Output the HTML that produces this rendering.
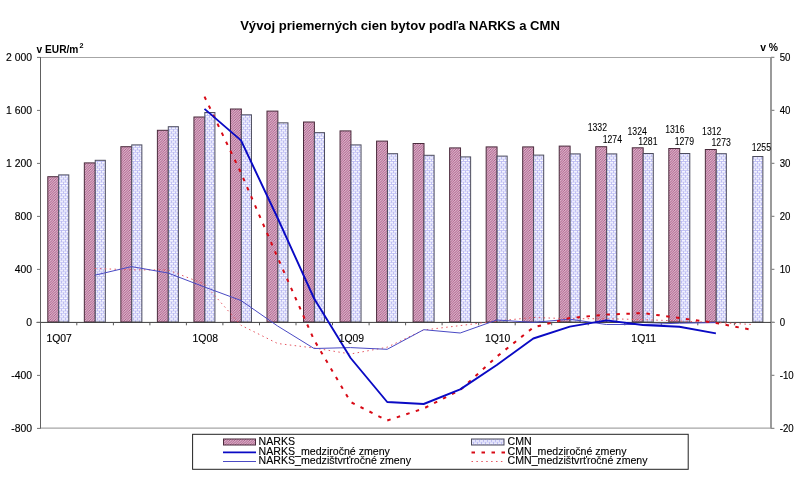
<!DOCTYPE html>
<html lang="sk">
<head>
<meta charset="utf-8">
<title>Vývoj priemerných cien bytov podľa NARKS a CMN</title>
<style>
html,body{margin:0;padding:0;background:#fff;}
body{width:800px;height:483px;overflow:hidden;}
svg{display:block;}
text{font-family:"Liberation Sans",Arial,Helvetica,sans-serif;fill:#000;}
.t{font-size:10.4px;stroke:#000;stroke-width:0.14px;}
.d{font-size:10px;stroke:#000;stroke-width:0.08px;}
.b{font-weight:bold;}
.lg{font-size:10.6px;stroke:#000;stroke-width:0.12px;}
</style>
</head>
<body>
<svg width="800" height="483" viewBox="0 0 800 483">
<defs>
<pattern id="pn" width="2.5" height="2.5" patternUnits="userSpaceOnUse">
<rect width="2.5" height="2.5" fill="#f2d4e4"/>
<path d="M-0.5,0.5 L0.5,-0.5 M-0.5,3 L3,-0.5 M2,3 L3,2" stroke="#9e4c7a" stroke-width="0.88"/>
</pattern>
<pattern id="pc" width="4" height="4.6" patternUnits="userSpaceOnUse">
<rect width="4" height="4.6" fill="#fafaff"/>
<path d="M0,0.5 H4 M0,2.8 H4 M1.5,0.5 V2.8 M3.5,2.8 V5.1" stroke="#a9a9ee" stroke-width="0.68" fill="none"/>
</pattern>
</defs>
<rect width="800" height="483" fill="#fff"/>

<path d="M40,57.5 H771 M40,428.1 H771" stroke="#a6a6a6" stroke-width="1.1" fill="none"/>
<g stroke-width="1">
<rect x="47.80" y="176.70" width="10.90" height="145.30" fill="url(#pn)" stroke="#4a2b3c"/>
<rect x="84.33" y="162.90" width="10.90" height="159.10" fill="url(#pn)" stroke="#4a2b3c"/>
<rect x="120.86" y="146.70" width="10.90" height="175.30" fill="url(#pn)" stroke="#4a2b3c"/>
<rect x="157.39" y="130.30" width="10.90" height="191.70" fill="url(#pn)" stroke="#4a2b3c"/>
<rect x="193.92" y="117.00" width="10.90" height="205.00" fill="url(#pn)" stroke="#4a2b3c"/>
<rect x="230.45" y="109.00" width="10.90" height="213.00" fill="url(#pn)" stroke="#4a2b3c"/>
<rect x="266.98" y="111.10" width="10.90" height="210.90" fill="url(#pn)" stroke="#4a2b3c"/>
<rect x="303.51" y="122.00" width="10.90" height="200.00" fill="url(#pn)" stroke="#4a2b3c"/>
<rect x="340.04" y="130.90" width="10.90" height="191.10" fill="url(#pn)" stroke="#4a2b3c"/>
<rect x="376.57" y="141.10" width="10.90" height="180.90" fill="url(#pn)" stroke="#4a2b3c"/>
<rect x="413.10" y="143.50" width="10.90" height="178.50" fill="url(#pn)" stroke="#4a2b3c"/>
<rect x="449.63" y="147.90" width="10.90" height="174.10" fill="url(#pn)" stroke="#4a2b3c"/>
<rect x="486.16" y="146.90" width="10.90" height="175.10" fill="url(#pn)" stroke="#4a2b3c"/>
<rect x="522.69" y="146.90" width="10.90" height="175.10" fill="url(#pn)" stroke="#4a2b3c"/>
<rect x="559.22" y="146.10" width="10.90" height="175.90" fill="url(#pn)" stroke="#4a2b3c"/>
<rect x="595.75" y="146.70" width="10.90" height="175.30" fill="url(#pn)" stroke="#4a2b3c"/>
<rect x="632.28" y="147.80" width="10.90" height="174.20" fill="url(#pn)" stroke="#4a2b3c"/>
<rect x="668.81" y="148.50" width="10.90" height="173.50" fill="url(#pn)" stroke="#4a2b3c"/>
<rect x="705.34" y="149.50" width="10.90" height="172.50" fill="url(#pn)" stroke="#4a2b3c"/>
<rect x="58.70" y="174.90" width="10.10" height="147.10" fill="url(#pc)" stroke="#4d4d5e"/>
<rect x="95.23" y="160.30" width="10.10" height="161.70" fill="url(#pc)" stroke="#4d4d5e"/>
<rect x="131.76" y="144.90" width="10.10" height="177.10" fill="url(#pc)" stroke="#4d4d5e"/>
<rect x="168.29" y="126.70" width="10.10" height="195.30" fill="url(#pc)" stroke="#4d4d5e"/>
<rect x="204.82" y="112.50" width="10.10" height="209.50" fill="url(#pc)" stroke="#4d4d5e"/>
<rect x="241.35" y="114.80" width="10.10" height="207.20" fill="url(#pc)" stroke="#4d4d5e"/>
<rect x="277.88" y="122.85" width="10.10" height="199.15" fill="url(#pc)" stroke="#4d4d5e"/>
<rect x="314.41" y="132.65" width="10.10" height="189.35" fill="url(#pc)" stroke="#4d4d5e"/>
<rect x="350.94" y="144.90" width="10.10" height="177.10" fill="url(#pc)" stroke="#4d4d5e"/>
<rect x="387.47" y="153.70" width="10.10" height="168.30" fill="url(#pc)" stroke="#4d4d5e"/>
<rect x="424.00" y="155.30" width="10.10" height="166.70" fill="url(#pc)" stroke="#4d4d5e"/>
<rect x="460.53" y="156.90" width="10.10" height="165.10" fill="url(#pc)" stroke="#4d4d5e"/>
<rect x="497.06" y="156.10" width="10.10" height="165.90" fill="url(#pc)" stroke="#4d4d5e"/>
<rect x="533.59" y="155.10" width="10.10" height="166.90" fill="url(#pc)" stroke="#4d4d5e"/>
<rect x="570.12" y="153.90" width="10.10" height="168.10" fill="url(#pc)" stroke="#4d4d5e"/>
<rect x="606.65" y="153.90" width="10.10" height="168.10" fill="url(#pc)" stroke="#4d4d5e"/>
<rect x="643.18" y="153.50" width="10.10" height="168.50" fill="url(#pc)" stroke="#4d4d5e"/>
<rect x="679.71" y="153.50" width="10.10" height="168.50" fill="url(#pc)" stroke="#4d4d5e"/>
<rect x="716.24" y="153.70" width="10.10" height="168.30" fill="url(#pc)" stroke="#4d4d5e"/>
<rect x="752.77" y="156.50" width="10.10" height="165.50" fill="url(#pc)" stroke="#4d4d5e"/>
</g>
<path d="M40.5,57 V428.5" stroke="#606060" stroke-width="1" fill="none"/>
<path d="M771,57 V428.6" stroke="#969696" stroke-width="1.9" fill="none"/>
<path d="M36.5,322.4 H774.5" stroke="#3a3a3a" stroke-width="1" fill="none"/>
<path d="M37,57.4 H40.5 M37,110.4 H40.5 M37,163.4 H40.5 M37,216.4 H40.5 M37,269.4 H40.5 M37,322.4 H40.5 M37,375.4 H40.5 M37,428.4 H40.5" stroke="#707070" stroke-width="1" fill="none"/>
<path d="M771,57.4 H774.4 M771,110.4 H774.4 M771,163.4 H774.4 M771,216.4 H774.4 M771,269.4 H774.4 M771,322.4 H774.4 M771,375.4 H774.4 M771,428.4 H774.4" stroke="#8c8c8c" stroke-width="1.1" fill="none"/>
<path d="M76.8,322.3 V325.3 M113.4,322.3 V325.3 M149.9,322.3 V325.3 M186.4,322.3 V325.3 M222.9,322.3 V325.3 M259.5,322.3 V325.3 M296.0,322.3 V325.3 M332.5,322.3 V325.3 M369.1,322.3 V325.3 M405.6,322.3 V325.3 M442.1,322.3 V325.3 M478.7,322.3 V325.3 M515.2,322.3 V325.3 M551.7,322.3 V325.3 M588.2,322.3 V325.3 M624.8,322.3 V325.3 M661.3,322.3 V325.3 M697.8,322.3 V325.3 M734.4,322.3 V325.3" stroke="#555" stroke-width="1" fill="none"/>
<path d="M94.9,268.5 L131.5,269.8 L168.0,270.0 L204.5,284.0 L241.0,325.3 L277.6,343.5 L314.1,348.0 L350.6,354.0 L387.2,347.2 L423.7,330.0 L460.2,325.6 L496.8,321.0 L533.3,317.5 L569.8,318.7 L606.4,318.7 L642.9,319.6 L679.4,321.0 L715.9,322.5 L752.5,324.5" stroke="#e65560" stroke-width="1" stroke-dasharray="1.5,3.4" fill="none"/>
<path d="M94.9,275.2 L131.5,266.6 L168.0,273.0 L204.5,287.0 L241.0,300.5 L277.6,326.0 L314.1,348.5 L350.6,347.6 L387.2,349.3 L423.7,329.7 L460.2,333.0 L496.8,320.0 L533.3,322.4 L569.8,319.2 L606.4,324.5 L642.9,324.5 L679.4,323.2 L715.9,322.6" stroke="#4a4ac4" stroke-width="1" fill="none"/>
<path d="M204.5,96.6 L241.0,173.0 L277.6,257.5 L314.1,340.0 L350.6,402.0 L387.2,420.5 L423.7,408.5 L460.2,390.0 L496.8,356.6 L533.3,327.4 L569.8,318.0 L606.4,314.6 L642.9,313.1 L679.4,318.0 L715.9,323.0 L752.5,330.0" stroke="#d80a16" stroke-width="2" stroke-dasharray="3.5,6.5" fill="none"/>
<path d="M204.5,108.9 L241.0,140.4 L277.6,218.0 L314.1,298.5 L350.6,358.0 L387.2,402.0 L423.7,404.0 L460.2,389.4 L496.8,365.0 L533.3,338.5 L569.8,326.6 L606.4,320.4 L642.9,325.0 L679.4,326.8 L715.9,333.4" stroke="#0a0ac4" stroke-width="1.9" stroke-linejoin="round" fill="none"/>
<text x="400" y="30.1" text-anchor="middle" class="b" style="font-size:13.09px">Vývoj priemerných cien bytov podľa NARKS a CMN</text>
<text x="36.5" y="52.8" class="b" style="font-size:10.2px">v EUR/m<tspan dx="1" dy="-4.4" style="font-size:7.2px">2</tspan></text>
<text x="760.2" y="50.9" class="b" style="font-size:10.4px">v %</text>
<text x="32" y="61.3" text-anchor="end" class="t">2 000</text>
<text transform="translate(779.7,61.0) scale(0.93,1)" class="t">50</text>
<text x="32" y="114.3" text-anchor="end" class="t">1 600</text>
<text transform="translate(779.7,114.0) scale(0.93,1)" class="t">40</text>
<text x="32" y="167.3" text-anchor="end" class="t">1 200</text>
<text transform="translate(779.7,167.0) scale(0.93,1)" class="t">30</text>
<text x="32" y="220.3" text-anchor="end" class="t">800</text>
<text transform="translate(779.7,220.0) scale(0.93,1)" class="t">20</text>
<text x="32" y="273.3" text-anchor="end" class="t">400</text>
<text transform="translate(779.7,273.0) scale(0.93,1)" class="t">10</text>
<text x="32" y="326.3" text-anchor="end" class="t">0</text>
<text transform="translate(779.7,326.0) scale(0.93,1)" class="t">0</text>
<text x="32" y="379.3" text-anchor="end" class="t">-400</text>
<text transform="translate(779.7,379.0) scale(0.93,1)" class="t">-10</text>
<text x="32" y="432.3" text-anchor="end" class="t">-800</text>
<text transform="translate(779.7,432.0) scale(0.93,1)" class="t">-20</text>
<text x="59.2" y="341.8" text-anchor="middle" class="t">1Q07</text>
<text x="205.3" y="341.8" text-anchor="middle" class="t">1Q08</text>
<text x="351.4" y="341.8" text-anchor="middle" class="t">1Q09</text>
<text x="497.6" y="341.8" text-anchor="middle" class="t">1Q10</text>
<text x="643.7" y="341.8" text-anchor="middle" class="t">1Q11</text>
<text x="587.7" y="131.0" class="d" textLength="19.3" lengthAdjust="spacingAndGlyphs">1332</text>
<text x="602.7" y="142.5" class="d" textLength="19.3" lengthAdjust="spacingAndGlyphs">1274</text>
<text x="627.5" y="135.3" class="d" textLength="19.3" lengthAdjust="spacingAndGlyphs">1324</text>
<text x="638.2" y="144.8" class="d" textLength="19.3" lengthAdjust="spacingAndGlyphs">1281</text>
<text x="665.2" y="132.9" class="d" textLength="19.3" lengthAdjust="spacingAndGlyphs">1316</text>
<text x="674.7" y="144.8" class="d" textLength="19.3" lengthAdjust="spacingAndGlyphs">1279</text>
<text x="702.1" y="134.9" class="d" textLength="19.3" lengthAdjust="spacingAndGlyphs">1312</text>
<text x="711.5" y="145.8" class="d" textLength="19.3" lengthAdjust="spacingAndGlyphs">1273</text>
<text x="751.7" y="151.4" class="d" textLength="19.3" lengthAdjust="spacingAndGlyphs">1255</text>
<rect x="192.6" y="434.3" width="495.6" height="35" fill="#fff" stroke="#222" stroke-width="1"/>
<rect x="223.5" y="439" width="32" height="6" fill="url(#pn)" stroke="#4a2b3c" stroke-width="1"/>
<rect x="471.5" y="439" width="32.5" height="6" fill="url(#pc)" stroke="#4d4d5e" stroke-width="1"/>
<path d="M223,452.4 H256" stroke="#0a0ac4" stroke-width="1.9" fill="none"/>
<path d="M223,461.5 H256" stroke="#4a4ac4" stroke-width="1" fill="none"/>
<path d="M471.5,452.4 H505" stroke="#d80a16" stroke-width="2" stroke-dasharray="3.5,6.5" fill="none"/>
<path d="M471.5,461.5 H505" stroke="#e65560" stroke-width="1" stroke-dasharray="1.5,3.4" fill="none"/>
<text x="258.6" y="444.8" class="lg">NARKS</text>
<text x="258.6" y="455" class="lg">NARKS_medziročné zmeny</text>
<text x="258.6" y="464.2" class="lg">NARKS_medzištvrťročné zmeny</text>
<text x="507.6" y="444.8" class="lg">CMN</text>
<text x="507.6" y="455" class="lg">CMN_medziročné zmeny</text>
<text x="507.6" y="464.2" class="lg">CMN_medzištvrťročné zmeny</text>
</svg>
</body>
</html>
